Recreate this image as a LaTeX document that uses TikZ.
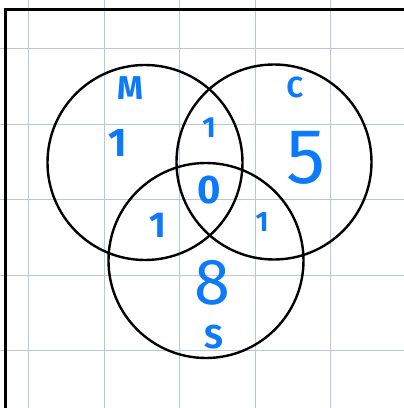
\documentclass[tikz,border=0pt]{standalone}
\usepackage{fontspec}
\setmainfont{Fira Sans}
\usepackage{xcolor,tikz}
\definecolor{ink}{RGB}{12,122,250}
\definecolor{gridblue}{RGB}{184,198,222}
\tikzset{setring/.style={draw,circle,line width=2.4pt,minimum size=195pt,inner sep=0pt},
  count/.style={text=ink,inner sep=0pt,font=\bfseries\fontsize{#1}{#1}\selectfont},
  bigcount/.style={text=ink,inner sep=0pt,font=\fontsize{#1}{#1}\selectfont}}

\begin{document}
\begin{tikzpicture}[x=1pt,y=1pt]
\useasboundingbox (0,0) rectangle (404,408);
\foreach \k in {0,...,4}{\draw[gridblue,line width=1pt] (28.5+\k*75.5,0)--(28.5+\k*75.5,408);}
\foreach \k in {0,...,4}{\draw[gridblue,line width=1pt] (0,57+\k*75.5)--(404,57+\k*75.5);}
\draw[line width=3pt] (5,0)--(5,398)--(404,398);
% three sets
\node[setring] (M) at (145,245.5) {};
\node[setring] (C) at (274,246) {};
\node[setring] (S) at (206,147.5) {};
\node[count=33] (mName) at (130,320) {M};
\node[count=29] (cName) at (295,321) {C};
\node[count=33] (sName) at (214,71) {S};
% region counts
\node[count=40] (mOnly) at (118,265) {1};
\node[count=29] (mc) at (209,280) {1};
\node[bigcount=78] (cOnly) at (306,250) {5};
\node[count=40] (mcs) at (209,218) {0};
\node[count=36] (ms) at (158,183) {1};
\node[count=28] (cs) at (262,186) {1};
\node[bigcount=65] (sOnly) at (212,125) {8};
\end{tikzpicture}
\end{document}
